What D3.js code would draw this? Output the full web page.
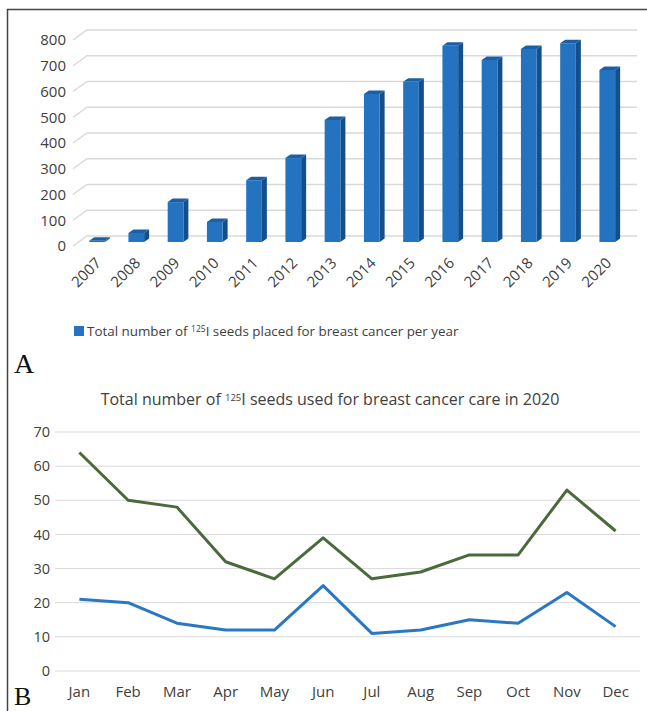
<!DOCTYPE html>
<html>
<head>
<meta charset="utf-8">
<script src="https://cdn.jsdelivr.net/npm/d3@7"></script>
<style>
  body { margin: 0; background: #fff; }
  text { font-family: "Open Sans", "Noto Sans", sans-serif; fill: #404040; }
</style>
</head>
<body>
<div></div>
<script>
const width = 647;
const height = 711;

// chart A data
const years = ["2007", "2008", "2009", "2010", "2011", "2012", "2013", "2014", "2015", "2016", "2017", "2018", "2019", "2020"];
const seedsPerYear = [5, 35, 155, 78, 240, 326, 474, 575, 622, 762, 707, 750, 772, 668];
const yearTicks = [0, 100, 200, 300, 400, 500, 600, 700, 800];

// chart B data
const months = ["Jan", "Feb", "Mar", "Apr", "May", "Jun", "Jul", "Aug", "Sep", "Oct", "Nov", "Dec"];
const seriesGreen = [64, 50, 48, 32, 27, 39, 27, 29, 34, 34, 53, 41];
const seriesBlue = [21, 20, 14, 12, 12, 25, 11, 12, 15, 14, 23, 13];
const monthTicks = [0, 10, 20, 30, 40, 50, 60, 70];

const svg = d3.create("svg")
    .attr("width", width)
    .attr("height", height)
    .attr("viewBox", [0, 0, width, height]);

// frame
svg.append("path")
    .attr("d", "M7.5,711 L7.5,9.5 L647,9.5")
    .attr("fill", "none")
    .attr("stroke", "#444")
    .attr("stroke-width", 1.5);

// ---------- A: 3D column chart ----------
const depthX = 14, depthY = 10;
const yGrid = d3.scaleLinear().domain([0, 800]).range([236, 30]);
const yBar = d3.scaleLinear().domain([0, 800]).range([242, 36]);
const xBar = d3.scaleBand().domain(years).range([77.4, 626.9])
    .paddingInner(0.6).paddingOuter(0.3);

const gA = svg.append("g");

const grid = gA.append("g")
    .selectAll("g")
    .data(yearTicks)
    .join("g");
grid.append("path")
    .attr("d", d => `M${87 - depthX},${yGrid(d) + depthY} L87,${yGrid(d)} L637,${yGrid(d)}`)
    .attr("fill", "none")
    .attr("stroke", "#d9d9d9")
    .attr("stroke-width", 1.5);
grid.append("text")
    .attr("x", 66)
    .attr("y", d => yGrid(d) + depthY)
    .attr("dy", "0.35em")
    .attr("text-anchor", "end")
    .style("font-size", "15px")
    .text(d => d);

const bw = xBar.bandwidth();
const sx = 5, sy = 3.5;
const bars = gA.append("g")
    .selectAll("g")
    .data(years.map((y, i) => ({ year: y, value: seedsPerYear[i] })))
    .join("g");
// side face
bars.append("path")
    .attr("d", d => {
        const x1 = xBar(d.year) + bw, y0 = yBar(0), y1 = yBar(d.value);
        return `M${x1},${y0} L${x1 + sx},${y0 - sy} L${x1 + sx},${y1 - sy} L${x1},${y1} Z`;
    })
    .attr("fill", "#154f8a");
// top face
bars.append("path")
    .attr("d", d => {
        const x0 = xBar(d.year), x1 = x0 + bw, y1 = yBar(d.value);
        return `M${x0},${y1} L${x0 + sx},${y1 - sy} L${x1 + sx},${y1 - sy} L${x1},${y1} Z`;
    })
    .attr("fill", "#1c5fa3");
// front face
bars.append("rect")
    .attr("x", d => xBar(d.year))
    .attr("y", d => yBar(d.value))
    .attr("width", bw)
    .attr("height", d => yBar(0) - yBar(d.value))
    .attr("fill", "#2473c0");

gA.append("g")
    .selectAll("text")
    .data(years)
    .join("text")
    .attr("transform", d => `translate(${xBar(d) + bw / 2 + 5},264) rotate(-45)`)
    .attr("text-anchor", "end")
    .style("font-size", "15px")
    .text(d => d);

// legend
gA.append("rect")
    .attr("x", 74).attr("y", 326)
    .attr("width", 10).attr("height", 10)
    .attr("fill", "#2473c0");
const legText = gA.append("text")
    .attr("x", 87).attr("y", 335.5)
    .style("font-size", "13.4px");
legText.append("tspan").text("Total number of ");
legText.append("tspan").style("font-size", "8.5px").attr("dy", -3.5).text("125");
legText.append("tspan").attr("dy", 3.5).text("I seeds placed for breast cancer per year");

svg.append("text")
    .attr("x", 14).attr("y", 373)
    .style("font-family", "'Liberation Serif', 'DejaVu Serif', serif")
    .style("font-size", "28px")
    .style("fill", "#111")
    .text("A");

// ---------- B: line chart ----------
const xM = d3.scaleBand().domain(months).range([55, 640]);
const yM = d3.scaleLinear().domain([0, 70]).range([671, 432]);
const gB = svg.append("g");

const title = gB.append("text")
    .attr("x", 330).attr("y", 405)
    .attr("text-anchor", "middle")
    .style("font-size", "16px");
title.append("tspan").text("Total number of ");
title.append("tspan").style("font-size", "9.5px").attr("dy", -4).text("125");
title.append("tspan").attr("dy", 4).text("I seeds used for breast cancer care in 2020");

gB.append("g")
    .selectAll("line")
    .data(monthTicks)
    .join("line")
    .attr("x1", 55).attr("x2", 640)
    .attr("y1", d => yM(d)).attr("y2", d => yM(d))
    .attr("stroke", "#d9d9d9")
    .attr("stroke-width", 1);

gB.append("g")
    .selectAll("text")
    .data(monthTicks)
    .join("text")
    .attr("x", 50)
    .attr("y", d => yM(d))
    .attr("dy", "0.35em")
    .attr("text-anchor", "end")
    .style("font-size", "14.5px")
    .text(d => d);

gB.append("g")
    .selectAll("text")
    .data(months)
    .join("text")
    .attr("x", d => xM(d) + xM.bandwidth() / 2)
    .attr("y", 692)
    .attr("dy", "0.35em")
    .attr("text-anchor", "middle")
    .style("font-size", "15px")
    .text(d => d);

const line = d3.line()
    .x((d, i) => xM(months[i]) + xM.bandwidth() / 2)
    .y(d => yM(d));

gB.append("path")
    .datum(seriesGreen)
    .attr("d", line)
    .attr("fill", "none")
    .attr("stroke", "#4a6a3b")
    .attr("stroke-width", 3)
    .attr("stroke-linejoin", "round");

gB.append("path")
    .datum(seriesBlue)
    .attr("d", line)
    .attr("fill", "none")
    .attr("stroke", "#2a78c3")
    .attr("stroke-width", 3)
    .attr("stroke-linejoin", "round");

svg.append("text")
    .attr("x", 14).attr("y", 704.5)
    .style("font-family", "'Liberation Serif', 'DejaVu Serif', serif")
    .style("font-size", "26px")
    .style("fill", "#111")
    .text("B");

document.querySelector("body>div").append(svg.node());
</script>
</body>
</html>
